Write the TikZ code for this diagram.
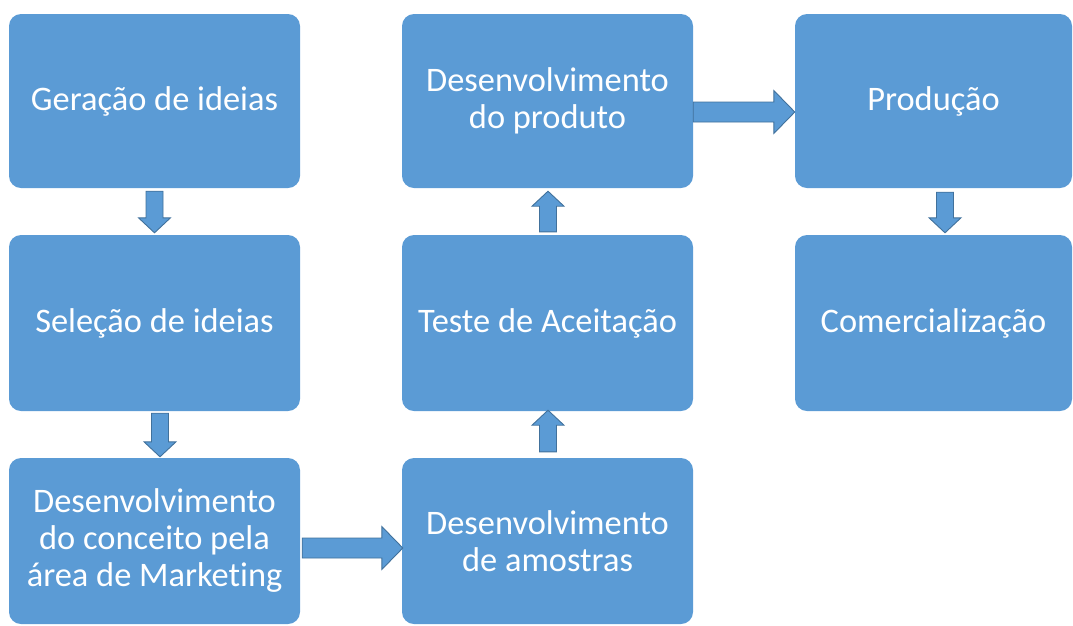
\documentclass[tikz,border=0pt]{standalone}
\usepackage{fontspec}
\setmainfont[Ligatures={NoCommon}]{Carlito}
\usetikzlibrary{calc}
\definecolor{boxblue}{HTML}{5B9BD5}
\definecolor{arrowedge}{HTML}{41719C}
\begin{document}
\begin{tikzpicture}[x=1pt,y=-1pt,
  stage/.style={fill=boxblue, rounded corners=12pt, inner sep=0pt, text=white,
    align=center, font=\fontsize{34.4}{37}\selectfont, minimum width=291pt},
  barrow/.style={fill=boxblue, draw=arrowedge, line width=0.9pt, line join=miter},
  arrowdown/.style={barrow, to path={let \p1=(\tikztostart), \p2=(\tikztotarget) in
    (\x1-8.5pt,\y1) -- (\x1-8.5pt,\y2+15pt) -- (\x1-16pt,\y2+15pt) -- (\x1,\y2)
    -- (\x1+16pt,\y2+15pt) -- (\x1+8.5pt,\y2+15pt) -- (\x1+8.5pt,\y1) -- cycle}},
  arrowup/.style={barrow, to path={let \p1=(\tikztostart), \p2=(\tikztotarget) in
    (\x1-8.5pt,\y1) -- (\x1-8.5pt,\y2-15pt) -- (\x1-16pt,\y2-15pt) -- (\x1,\y2)
    -- (\x1+16pt,\y2-15pt) -- (\x1+8.5pt,\y2-15pt) -- (\x1+8.5pt,\y1) -- cycle}},
  arrowright/.style={barrow, to path={let \p1=(\tikztostart), \p2=(\tikztotarget) in
    (\x1,\y1+10pt) -- (\x2-21pt,\y1+10pt) -- (\x2-21pt,\y1+21.5pt) -- (\x2,\y1)
    -- (\x2-21pt,\y1-21.5pt) -- (\x2-21pt,\y1-10pt) -- (\x1,\y1-10pt) -- cycle}}]
\useasboundingbox (0,0) rectangle (1073,625);

\node[stage, minimum height=174pt] (A) at (154.5,101) {Geração de ideias};
\node[stage, minimum height=176pt] (B) at (154.5,323) {Seleção de ideias};
\node[stage, minimum height=166pt] (C) at (154.5,541) {Desenvolvimento\\do conceito pela\\área de Marketing};
\node[stage, minimum height=166pt] (D) at (547.5,541) {Desenvolvimento\\de amostras};
\node[stage, minimum height=176pt] (E) at (547.5,323) {Teste de Aceitação};
\node[stage, minimum height=174pt] (F) at (547.5,101) {Desenvolvimento\\do produto};
\node[stage, minimum height=174pt, minimum width=277pt] (G) at (933.5,101) {Produção};
\node[stage, minimum height=176pt, minimum width=277pt] (H) at (933.5,323) {Comercialização};

\path[arrowdown] ($(A.south)+(0,3)$) to ($(B.north)+(0,-2)$);
\path[arrowdown] ($(B.south)+(5.5,2)$) to ($(C.north)+(5.5,-1)$);
\path[arrowright] ($(C.east)+(2,7)$) to ($(D.west)+(1,7)$);
\path[arrowup] ($(D.north)+(0.5,-6)$) to ($(E.south)+(0.5,-1)$);
\path[arrowup] ($(E.north)+(0.5,-3)$) to ($(F.south)+(0.5,3)$);
\path[arrowright] ($(F.east)+(0,11)$) to ($(G.west)+(0,11)$);
\path[arrowdown] ($(G.south)+(11.5,4)$) to ($(H.north)+(11.5,-2)$);
\end{tikzpicture}
\end{document}
